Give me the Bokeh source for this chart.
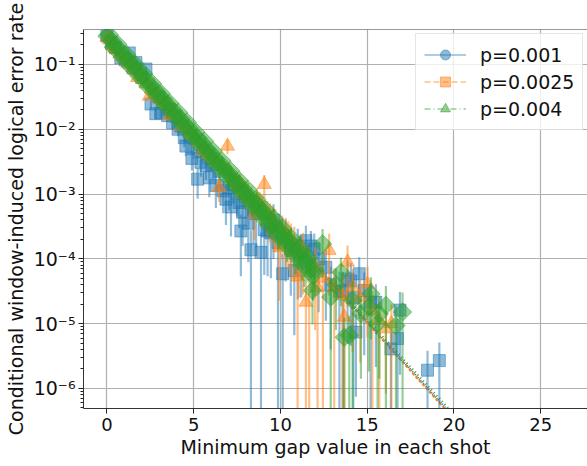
import numpy as np
from bokeh.plotting import figure
from bokeh.models import (ColumnDataSource, Range1d, FixedTicker, CustomJSTickFormatter,
                          Legend, LegendItem, Span)
from bokeh.embed import file_html
from bokeh.resources import INLINE

# ---------------- data ----------------
labels = ["p=0.001", "p=0.0025", "p=0.004"]

blue_x = [0, 0.25, 0.5, 0.8, 1.05, 1.29, 1.5, 1.67, 2.0, 2.25, 2.54, 2.82, 3.0, 3.25, 3.5, 3.78,
          4.0, 4.25, 4.46, 4.55, 4.8, 5.0, 5.23, 5.42, 5.71, 6.0, 6.28, 6.5, 6.86, 7.05, 7.3,
          7.62, 7.72, 7.82, 8.0, 8.3, 8.6, 8.88, 9.07, 9.26, 9.45, 9.86, 10.13, 10.6, 10.8,
          11.2, 11.47, 11.76, 11.95, 12.62, 13.4, 13.87, 14.06, 14.2, 14.35, 14.54, 14.83,
          15.2, 15.5, 16.37, 16.75, 16.89, 18.48, 19.16,
          3.1, 3.6, 4.1, 4.9, 5.5, 5.9, 6.1, 6.7, 7.15, 7.5, 8.15, 8.45, 9.6, 10.3, 11.0,
          12.2, 12.9, 13.6]
blue_y = [0.275, 0.219, 0.182, 0.126, 0.118, 0.151, 0.0891, 0.107, 0.0631, 0.0851, 0.0245,
          0.0174, 0.0316, 0.0251, 0.0162, 0.0126, 0.0158, 0.0112, 0.00741, 0.00550, 0.00794,
          0.00501, 0.00170, 0.00309, 0.00275, 0.00355, 0.00135, 0.00224, 0.000832, 0.00126,
          0.00141, 0.000741, 0.000269, 0.000525, 0.000794, 0.000138, 0.000501, 0.000126,
          0.000282, 0.000269, 0.000251, 0.000178, 5.89e-5, 1.35e-4, 6.61e-5, 1.26e-4, 1.91e-4,
          1.58e-4, 1.41e-4, 7.41e-5, 3.16e-5, 4.90e-5, 4.57e-5, 2.51e-5, 7.41e-6, 5.89e-5,
          3.24e-5, 2.14e-5, 2.14e-5, 4.07e-6, 5.89e-6, 1.62e-5, 1.91e-6, 2.69e-6,
          0.0178, 0.0200, 0.0100, 0.00355, 0.00447, 0.00178, 0.00282, 0.00112, 0.000631,
          0.00100, 0.000355, 0.000562, 0.000398, 0.000224, 0.000158, 0.000100, 3.98e-5,
          3.16e-5]
blue_rel_err = [0.04, 0.05, 0.05, 0.06, 0.06, 0.06, 0.08, 0.08, 0.1, 0.1, 0.15, 0.18, 0.15, 0.15,
                0.2, 0.22, 0.2, 0.22, 0.28, 0.3, 0.28, 0.3, 0.5, 0.4, 0.4, 0.35, 0.55, 0.45, 0.6,
                0.55, 0.5, 0.6, 0.8, 0.7, 0.6, 1.0, 0.7, 1.0, 0.8, 0.8, 0.8, 1.0, 1.0, 0.8, 0.9,
                0.8, 0.7, 0.7, 0.75, 0.85, 1.0, 0.9, 0.9, 1.0, 0.9, 0.8, 0.9, 1.0, 0.9, 0.9, 1.0,
                0.9, 1.0, 0.9,
                0.15, 0.17, 0.22, 0.35, 0.35, 0.5, 0.4, 0.55, 0.65, 0.55, 0.75, 0.7, 0.75, 0.8,
                0.85, 0.85, 0.9, 1.0]

orange_x = [0, 0.3, 0.6, 0.9, 1.2, 1.5, 1.77, 2.1, 2.44, 2.7, 3.0, 3.3, 3.59, 3.9, 4.27, 4.5,
            4.8, 5.1, 5.51, 5.7, 6.0, 6.3, 6.47, 6.8, 6.95, 7.2, 7.5, 7.8, 8.1, 8.49, 8.8, 9.07,
            9.4, 9.7, 9.93, 10.3, 10.6, 10.99, 11.3, 11.47, 11.66, 12.0, 12.14, 12.45, 12.81,
            13.1, 13.58, 13.68, 13.87, 14.16, 14.6, 15.02, 15.3, 15.7, 16.08, 16.4,
            0.15, 0.45, 0.75, 1.05, 1.35, 1.65, 1.95, 2.25, 2.55, 2.85, 3.15, 3.45, 3.75, 4.05,
            4.65, 4.95, 5.25, 5.85, 6.15, 6.6, 7.05, 7.35, 7.65, 7.95, 8.3, 8.65, 8.95, 9.25,
            9.55, 10.1, 10.45, 10.8, 11.1]
orange_y = [0.263, 0.195, 0.170, 0.132, 0.105, 0.0891, 0.0631, 0.0589, 0.0324, 0.0398, 0.0302,
            0.0263, 0.0162, 0.0178, 0.0112, 0.0117, 0.00891, 0.00759, 0.00468, 0.00501, 0.00380,
            0.00316, 0.00126, 0.00240, 0.00550, 0.00178, 0.00141, 0.00126, 0.00100, 0.000490,
            0.000708, 0.00141, 0.000447, 0.000355, 0.000151, 0.000251, 0.000200, 5.25e-5,
            1.41e-4, 2.14e-5, 6.17e-5, 7.94e-5, 3.63e-5, 5.01e-5, 1.35e-4, 3.55e-5, 2.69e-5,
            1.26e-5, 8.91e-5, 3.63e-5, 2.51e-5, 4.07e-5, 1.58e-5, 1.12e-5, 8.32e-6, 1.0e-5,
            0.240, 0.178, 0.148, 0.126, 0.100, 0.0794, 0.0708, 0.0501, 0.0417, 0.0355, 0.0282,
            0.0240, 0.0200, 0.0158, 0.0105, 0.00832, 0.00631, 0.00417, 0.00355, 0.00282,
            0.00224, 0.00166, 0.00151, 0.00112, 0.000891, 0.000794, 0.000631, 0.000501,
            0.000398, 0.000282, 0.000224, 0.000178, 0.000126]
orange_rel_err = [0.03, 0.03, 0.04, 0.04, 0.05, 0.05, 0.06, 0.06, 0.08, 0.08, 0.09, 0.1, 0.12,
                  0.12, 0.15, 0.15, 0.17, 0.18, 0.22, 0.22, 0.25, 0.27, 0.4, 0.3, 0.25, 0.35,
                  0.4, 0.4, 0.45, 0.6, 0.5, 0.4, 0.6, 0.65, 0.85, 0.7, 0.75, 1.0, 0.8, 1.0, 1.0,
                  0.9, 1.0, 1.0, 0.8, 1.0, 1.0, 1.0, 0.8, 0.9, 0.9, 0.85, 1.0, 1.0, 0.9, 1.0,
                  0.03, 0.04, 0.04, 0.05, 0.05, 0.06, 0.06, 0.07, 0.08, 0.08, 0.09, 0.1, 0.11,
                  0.12, 0.15, 0.16, 0.18, 0.22, 0.24, 0.27, 0.3, 0.33, 0.35, 0.4, 0.45, 0.48,
                  0.52, 0.55, 0.6, 0.65, 0.7, 0.75, 0.8]

green_x = [0, 0.25, 0.5, 0.75, 1.0, 1.25, 1.5, 1.75, 2.0, 2.25, 2.5, 2.75, 3.0, 3.25, 3.5, 3.75,
           4.0, 4.25, 4.5, 4.75, 5.0, 5.25, 5.5, 5.75, 6.0, 6.25, 6.5, 6.75, 7.0, 7.25, 7.5,
           7.75, 8.0, 8.25, 8.5, 8.75, 9.0, 9.25, 9.5, 9.75, 10.0, 10.25, 10.5, 10.75, 11.0,
           11.25, 11.5, 11.75, 12.0, 11.85, 12.43, 12.9, 13.2, 13.49, 13.68, 13.97, 14.16,
           14.64, 15.1, 15.22, 15.6, 15.7, 16.08, 16.66, 17.04,
           0.125, 0.375, 0.625, 0.875, 1.125, 1.375, 1.625, 1.875, 2.125, 2.375, 2.625, 2.875,
           3.125, 3.375, 3.625, 3.875, 4.125, 4.375, 4.625, 4.875, 5.125, 5.375, 5.625, 5.875,
           6.125, 6.375, 6.625, 6.875, 7.125, 7.375, 7.625, 7.875, 8.125, 8.375, 8.625, 8.875,
           9.125, 9.375, 9.625, 9.875, 10.125, 10.375, 10.625, 10.875, 11.125, 11.375, 11.625,
           11.875]
green_y = [0.275, 0.236, 0.190, 0.168, 0.133, 0.118, 0.0950, 0.0830, 0.0665, 0.0585, 0.0470,
           0.0415, 0.0330, 0.0292, 0.0235, 0.0205, 0.0165, 0.0146, 0.0116, 0.0104, 0.00820,
           0.00725, 0.00610, 0.00490, 0.00430, 0.00345, 0.00305, 0.00240, 0.00215, 0.00170,
           0.00152, 0.00118, 0.00108, 0.000840, 0.000760, 0.000590, 0.000540, 0.000410,
           0.000380, 0.000290, 0.000270, 0.000200, 0.000190, 0.000140, 0.000135, 9.8e-5,
           9.5e-5, 7.0e-5, 6.7e-5, 3.24e-5, 1.70e-4, 2.57e-5, 3.98e-5, 6.17e-5, 6.17e-6,
           6.61e-6, 2.29e-5, 1.41e-5, 1.82e-5, 2.88e-5, 1.0e-5, 1.41e-5, 1.91e-5, 9.33e-6,
           1.51e-5,
           0.290, 0.185, 0.205, 0.130, 0.144, 0.0918, 0.102, 0.0649, 0.0718, 0.0457, 0.0507,
           0.0323, 0.0357, 0.0228, 0.0252, 0.0161, 0.0182, 0.0111, 0.0129, 0.00782, 0.00906,
           0.00551, 0.00655, 0.00380, 0.00461, 0.00268, 0.00326, 0.00189, 0.00230, 0.00133,
           0.00162, 0.000942, 0.00117, 0.000649, 0.000826, 0.000458, 0.000582, 0.000323,
           0.000421, 0.000223, 0.000296, 0.000157, 0.000209, 0.000111, 0.000148, 7.82e-5,
           0.000104, 5.52e-5]
green_rel_err = [0.02, 0.02, 0.02, 0.03, 0.03, 0.03, 0.03, 0.04, 0.04, 0.05, 0.05, 0.05, 0.06,
                 0.06, 0.07, 0.07, 0.08, 0.09, 0.1, 0.1, 0.11, 0.12, 0.13, 0.14, 0.15, 0.16,
                 0.17, 0.18, 0.2, 0.21, 0.22, 0.24, 0.25, 0.27, 0.28, 0.3, 0.32, 0.34, 0.36,
                 0.38, 0.4, 0.42, 0.44, 0.47, 0.5, 0.52, 0.55, 0.58, 0.6, 0.7, 0.7, 1.0, 0.8,
                 0.7, 1.0, 1.0, 1.0, 0.9, 0.9, 0.8, 1.0, 0.9, 1.0, 1.0, 1.0,
                 0.02, 0.02, 0.03, 0.03, 0.03, 0.03, 0.04, 0.04, 0.05, 0.05, 0.05, 0.06, 0.06,
                 0.07, 0.07, 0.08, 0.08, 0.09, 0.1, 0.1, 0.11, 0.12, 0.13, 0.14, 0.15, 0.16,
                 0.17, 0.19, 0.2, 0.21, 0.23, 0.24, 0.26, 0.27, 0.29, 0.31, 0.33, 0.35, 0.37,
                 0.39, 0.41, 0.43, 0.46, 0.48, 0.51, 0.53, 0.56, 0.59]

# fitted exponential decay lines (end points, straight on the log axis)
fit_x = [0, 20]
fit_blue_y = [0.28, 3.6e-7]
fit_orange_y = [0.28, 3.4e-7]
fit_green_y = [0.28, 4.0e-7]

x_ticks = [0, 5, 10, 15, 20, 25]
y_ticks = [1e-6, 1e-5, 1e-4, 1e-3, 1e-2, 1e-1]

# ---------------- figure ----------------
FONT = "DejaVu Sans"
colors = ["#1f77b4", "#ff7f0e", "#2ca02c"]

p = figure(width=587, height=466, y_axis_type="log",
           x_range=Range1d(-1.35, 27.7), y_range=Range1d(10 ** -6.31, 10 ** -0.46),
           output_backend="svg", toolbar_location=None,
           min_border_left=83, min_border_right=0, min_border_top=29, min_border_bottom=58)
p.background_fill_color = "white"
p.border_fill_color = "white"
p.outline_line_color = None

p.xgrid.grid_line_color = "#b0b0b0"
p.ygrid.grid_line_color = "#b0b0b0"
p.xgrid.grid_line_width = 1.2
p.ygrid.grid_line_width = 1.2

# fit lines first (underneath the markers)
p.line(fit_x, fit_blue_y, line_color=colors[0], line_width=2, line_dash="1 1")
p.line(fit_x, fit_orange_y, line_color=colors[1], line_width=2, line_dash="3 2")
p.line(fit_x, fit_green_y, line_color=colors[2], line_width=2, line_dash="1 3")

series = [
    (blue_x, blue_y, blue_rel_err, "square", 12, 0),
    (orange_x, orange_y, orange_rel_err, "triangle", 14, 0),
    (green_x, green_y, green_rel_err, "square", 13, np.pi / 4),
]
for (xs, ys, rel, marker, size, ang), col in zip(series, colors):
    xs = np.asarray(xs, float)
    ys = np.asarray(ys, float)
    err = ys * np.asarray(rel, float)
    lo = np.maximum(ys - err, 1e-9)
    hi = ys + err
    src = ColumnDataSource(dict(x=xs, y=ys, lo=lo, hi=hi))
    p.segment(x0="x", y0="lo", x1="x", y1="hi", source=src, line_color=col,
              line_alpha=0.5, line_width=2.2)
    p.scatter(x="x", y="y", source=src, marker=marker, size=size, angle=ang,
              fill_color=col, fill_alpha=0.5, line_color=col, line_alpha=0.5, line_width=1)

# top spine
p.add_layout(Span(location=10 ** -0.46, dimension="width", line_color="#333333", line_width=1))

# axes
p.xaxis.ticker = FixedTicker(ticks=x_ticks)
minor = [k * 10.0 ** e for e in range(-7, 0) for k in range(2, 10)]
p.yaxis.ticker = FixedTicker(ticks=y_ticks, minor_ticks=minor)
p.yaxis.formatter = CustomJSTickFormatter(code="""
const sup = {"-":"\u207b","0":"\u2070","1":"\u00b9","2":"\u00b2","3":"\u00b3","4":"\u2074",
             "5":"\u2075","6":"\u2076","7":"\u2077","8":"\u2078","9":"\u2079"};
const e = Math.round(Math.log10(tick));
return "10" + String(e).split("").map(c => sup[c]).join("");
""")
for ax in (p.xaxis[0], p.yaxis[0]):
    ax.axis_line_color = "#333333"
    ax.major_tick_line_color = "#222222"
    ax.minor_tick_line_color = "#222222"
    ax.major_tick_out = 5
    ax.major_tick_in = 0
    ax.minor_tick_out = 3
    ax.minor_tick_in = 0
    ax.major_label_text_font = FONT
    ax.major_label_text_font_size = "18px"
    ax.major_label_text_color = "#111111"
    ax.axis_label_text_font = FONT
    ax.axis_label_text_font_size = "19px"
    ax.axis_label_text_font_style = "normal"
    ax.axis_label_text_color = "#111111"
p.yaxis.major_label_text_font_size = "19px"
p.xaxis.minor_tick_line_color = None
p.xaxis.axis_label = "Minimum gap value in each shot"
p.yaxis.axis_label = "Conditional window-induced logical error rate"
p.xaxis.major_label_standoff = 4
p.yaxis.major_label_standoff = 3
p.xaxis.axis_label_standoff = 2
p.yaxis.axis_label_standoff = 4

# legend (handles as in the reference): renderers hold a single NaN point, never visible
leg_items = []
for lab, col, mk, dash in zip(labels, colors, ["circle", "square", "triangle"],
                              ["solid", "6 3", "6 3 1 3"]):
    lr = p.line([np.nan], [np.nan], line_color=col, line_alpha=0.5, line_width=1.5,
                line_dash=dash)
    sr = p.scatter([np.nan], [np.nan], marker=mk, size=10, fill_color=col, fill_alpha=0.5,
                   line_color=col, line_alpha=0.5)
    leg_items.append(LegendItem(label=lab, renderers=[lr, sr]))
legend = Legend(items=leg_items, location=(332, 278), margin=0, padding=8, spacing=2,
                glyph_width=42, glyph_height=25, label_height=25, label_standoff=14,
                label_text_font=FONT, label_text_font_size="19px", label_text_color="#111111",
                border_line_color="#cccccc", border_line_width=1,
                background_fill_color="white", background_fill_alpha=0.8)
p.add_layout(legend)

open("out.html", "w").write(file_html(p, INLINE))
